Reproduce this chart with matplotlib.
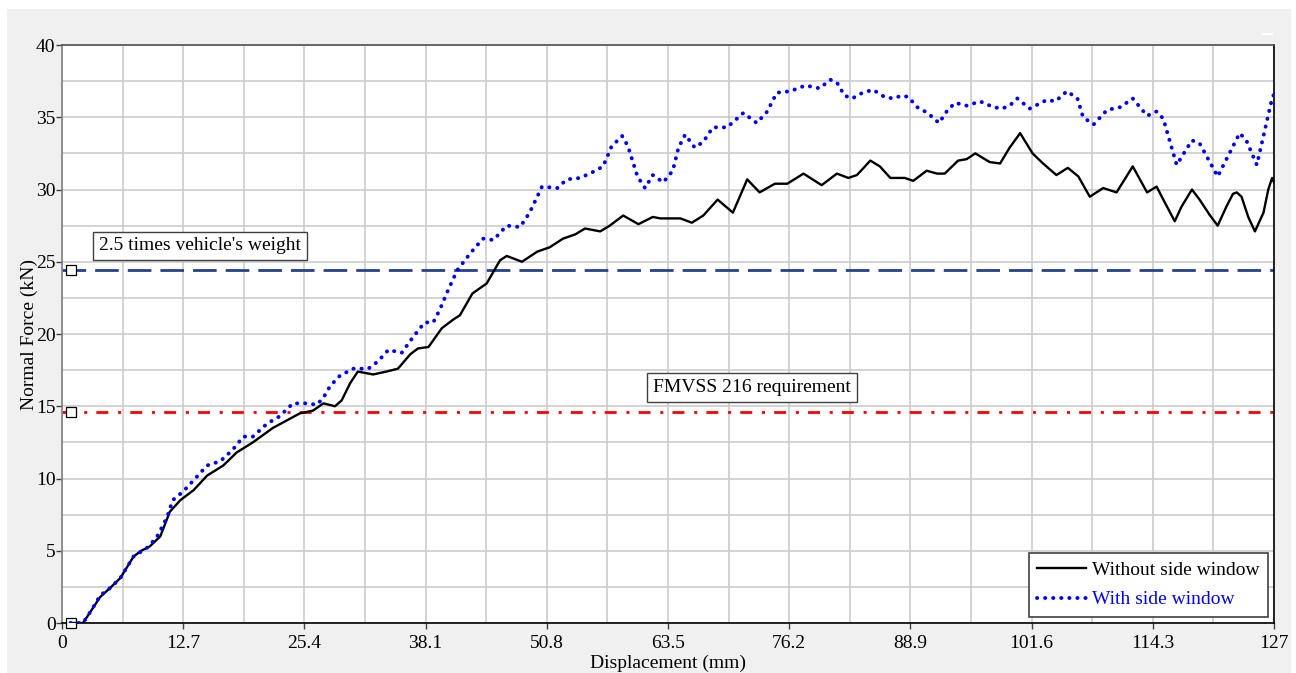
import matplotlib
matplotlib.use("Agg")
import matplotlib.pyplot as plt
from matplotlib.patches import Rectangle
from matplotlib.ticker import MultipleLocator, FixedLocator

plt.rcParams['font.family'] = ['Liberation Serif', 'DejaVu Serif']
plt.rcParams['lines.scale_dashes'] = False

# ---- data ----
disp_without = [0.9, 2.2, 3.0, 4.0, 5.0, 6.1, 7.5, 8.3, 9.2, 10.3, 11.3, 12.4, 13.8, 15.2, 16.9,
                18.3, 20.0, 22.1, 23.5, 24.9, 26.3, 27.4, 28.6, 29.3, 30.2, 31.0, 32.6, 34.0,
                35.2, 36.5, 37.3, 38.4, 39.8, 41.0, 41.7, 43.0, 44.5, 45.9, 46.6, 48.2, 49.8,
                51.1, 52.5, 53.8, 54.8, 56.4, 57.4, 58.8, 60.4, 61.9, 62.7, 64.8, 66.0, 67.2,
                68.7, 70.3, 71.8, 73.1, 74.7, 76.0, 77.7, 79.6, 81.2, 82.4, 83.3, 84.7, 85.7,
                86.8, 88.3, 89.2, 90.6, 91.7, 92.5, 93.9, 94.8, 95.7, 97.2, 98.3, 99.3, 100.4,
                101.7, 102.8, 104.2, 105.4, 106.5, 107.7, 109.1, 110.5, 112.2, 113.7, 114.7,
                115.4, 116.6, 117.3, 118.4, 119.2, 120.3, 121.1, 122.0, 122.7, 123.1, 123.6,
                124.3, 125.0, 125.9, 126.4, 126.8, 127.0]
force_without = [0.0, 0.0, 0.8, 1.8, 2.4, 3.1, 4.6, 5.0, 5.3, 6.0, 7.7, 8.5, 9.2, 10.2, 10.9,
                 11.8, 12.5, 13.5, 14.0, 14.5, 14.7, 15.2, 15.0, 15.4, 16.6, 17.4, 17.2, 17.4,
                 17.6, 18.6, 19.0, 19.1, 20.4, 21.0, 21.3, 22.8, 23.5, 25.1, 25.4, 25.0, 25.7,
                 26.0, 26.6, 26.9, 27.3, 27.1, 27.5, 28.2, 27.6, 28.1, 28.0, 28.0, 27.7, 28.2,
                 29.3, 28.4, 30.7, 29.8, 30.4, 30.4, 31.1, 30.3, 31.1, 30.8, 31.0, 32.0, 31.6,
                 30.8, 30.8, 30.6, 31.3, 31.1, 31.1, 32.0, 32.1, 32.5, 31.9, 31.8, 32.9, 33.9,
                 32.5, 31.8, 31.0, 31.5, 30.9, 29.5, 30.1, 29.8, 31.6, 29.8, 30.2,
                 29.3, 27.8, 28.8, 30.0, 29.3, 28.2, 27.5, 28.8, 29.7, 29.8, 29.5,
                 28.1, 27.1, 28.4, 30.0, 30.8, 30.5]

disp_with = [0.9, 2.2, 3.0, 4.0, 5.0, 6.1, 7.5, 8.9, 9.9, 11.0, 11.6, 12.7, 14.1, 15.2, 16.6,
             17.9, 19.0, 20.0, 21.5, 22.8, 24.2, 25.7, 26.7, 27.4, 28.1, 29.1, 30.5, 32.1,
             33.1, 34.2, 35.6, 36.8, 38.0, 38.9, 39.6, 40.3, 41.4, 42.8, 44.1, 45.2, 46.6,
             48.0, 49.0, 50.3, 51.9, 52.9, 54.3, 55.6, 56.7, 57.6, 58.7, 59.3, 60.3, 61.1,
             61.9, 63.0, 64.0, 64.6, 65.3, 66.3, 67.2, 68.2, 69.7, 71.4, 72.8, 73.9, 74.9,
             76.3, 77.9, 79.4, 80.5, 81.2, 82.0, 82.8, 83.9, 85.0, 86.2, 87.1, 88.0, 88.7,
             89.6, 90.7, 91.9, 92.8, 93.6, 94.8, 96.2, 97.6, 98.5, 99.3, 100.1, 101.4, 103.2,
             104.1, 105.3, 106.4, 107.0, 108.1, 109.5, 110.9, 112.2, 113.7, 114.7, 115.4,
             116.8, 118.4, 119.2, 121.1, 123.4, 124.1, 125.2, 126.8, 127.0]
force_with = [0.0, 0.0, 0.8, 1.9, 2.4, 3.1, 4.6, 5.2, 5.9, 7.3, 8.5, 9.1, 10.1, 10.9, 11.2,
              12.0, 12.9, 12.9, 13.8, 14.3, 15.2, 15.2, 15.1, 15.6, 16.4, 17.1, 17.6, 17.6,
              18.1, 18.9, 18.7, 19.8, 20.8, 20.8, 21.7, 22.8, 24.4, 25.6, 26.6, 26.5, 27.5,
              27.4, 28.4, 30.2, 30.1, 30.7, 30.8, 31.2, 31.6, 33.0, 33.7, 33.0, 30.9, 30.1,
              31.0, 30.5, 31.3, 32.9, 33.8, 32.9, 33.3, 34.3, 34.3, 35.3, 34.6, 35.4, 36.7,
              36.8, 37.2, 37.0, 37.6, 37.4, 36.5, 36.3, 36.7, 36.9, 36.4, 36.3, 36.5, 36.4,
              35.7, 35.3, 34.6, 35.5, 36.0, 35.8, 36.1, 35.7, 35.6, 35.8, 36.3, 35.6, 36.2,
              36.1, 36.8, 36.3, 35.0, 34.5, 35.5, 35.7, 36.3, 35.1, 35.4, 34.9,
              31.7, 33.4, 33.2, 30.9, 33.9, 33.4, 31.7, 36.3, 36.6]

weight_level = 24.4      # 2.5 times vehicle's weight (kN)
fmvss_level = 14.6       # FMVSS 216 requirement (kN)
ref_marker_x = 0.9

x_ticks = [0, 12.7, 25.4, 38.1, 50.8, 63.5, 76.2, 88.9, 101.6, 114.3, 127]
x_tick_labels = ['0', '12.7', '25.4', '38.1', '50.8', '63.5', '76.2', '88.9', '101.6', '114.3', '127']
y_ticks = [0, 5, 10, 15, 20, 25, 30, 35, 40]

W, H = 1296, 673
fig = plt.figure(figsize=(W / 100, H / 100), dpi=100, facecolor='white')
fig.patches.append(Rectangle((7 / W, 0), (1291 - 7) / W, (H - 9) / H,
                             transform=fig.transFigure, facecolor='#f0f0f0',
                             edgecolor='none', zorder=-10))
fig.patches.append(Rectangle((1262 / W, 1 - 35 / H), 11 / W, 2 / H,
                             transform=fig.transFigure, facecolor='white',
                             edgecolor='none', zorder=-5))

ax = fig.add_axes([62 / W, 1 - 623 / H, (1274 - 62) / W, (623 - 45) / H])
ax.set_facecolor('white')

ax.set_xlim(0, 127)
ax.set_ylim(0, 40)
ax.xaxis.set_major_locator(FixedLocator(x_ticks))
ax.set_xticklabels(x_tick_labels)
ax.xaxis.set_minor_locator(MultipleLocator(6.35))
ax.yaxis.set_major_locator(FixedLocator(y_ticks))
ax.yaxis.set_minor_locator(MultipleLocator(2.5))

ax.grid(True, which='both', color='#c8c8c8', linewidth=1.1, zorder=0)
ax.set_axisbelow(True)
ax.tick_params(axis='both', which='major', labelsize=14, length=4, width=1,
               direction='out', color='#404040')
ax.tick_params(axis='y', which='major', pad=0.6)
ax.tick_params(axis='x', which='major', pad=4.5)
ax.tick_params(axis='both', which='minor', length=0)

for side, col in [('left', '#808080'), ('top', '#505050'), ('bottom', 'black'), ('right', 'black')]:
    ax.spines[side].set_color(col)
    ax.spines[side].set_linewidth(1.2)

# reference lines
ax.axhline(weight_level, color='#24418f', linewidth=2.0, dashes=(17, 6.5), zorder=2)
ax.axhline(fmvss_level, color='#ff0000', linewidth=2.0, dashes=(8.6, 7.0, 2.2, 6.6), zorder=2)
ax.plot([ref_marker_x] * 3, [weight_level, fmvss_level, 0], linestyle='none', marker='s',
        markersize=7.5, markerfacecolor='white', markeredgecolor='black',
        markeredgewidth=0.9, zorder=3, clip_on=False)

# series
ax.plot(disp_without, force_without, color='black', linewidth=1.7,
        label='Without side window', zorder=4, solid_joinstyle='round')
ax.plot(disp_with, force_with, color='#0000ff', linewidth=2.8, dashes=(0.2, 5.6),
        dash_capstyle='round', label='With side window', zorder=5)

# annotations
box = dict(boxstyle='square,pad=0.3', facecolor='white', edgecolor='#404040', linewidth=1.0)
ax.text(14.46, 26.1, "2.5 times vehicle's weight", fontsize=14, ha='center', va='center',
        bbox=box, zorder=6)
ax.text(72.3, 16.3, "FMVSS 216 requirement", fontsize=14, ha='center', va='center',
        bbox=box, zorder=6)

ax.set_xlabel('Displacement (mm)', fontsize=14, labelpad=2)
ax.set_ylabel('Normal Force (kN)', fontsize=14, labelpad=-1.2)

leg = ax.legend(loc='lower right', fontsize=14, frameon=True, fancybox=False,
                edgecolor='#404040', framealpha=1, borderaxespad=0.3,
                handlelength=2.5, handletextpad=0.3, borderpad=0.45, labelspacing=0.6)
leg.get_frame().set_linewidth(1.2)
leg.get_texts()[1].set_color('#0000ff')

fig.savefig('out.png', dpi=100, facecolor=fig.get_facecolor())
